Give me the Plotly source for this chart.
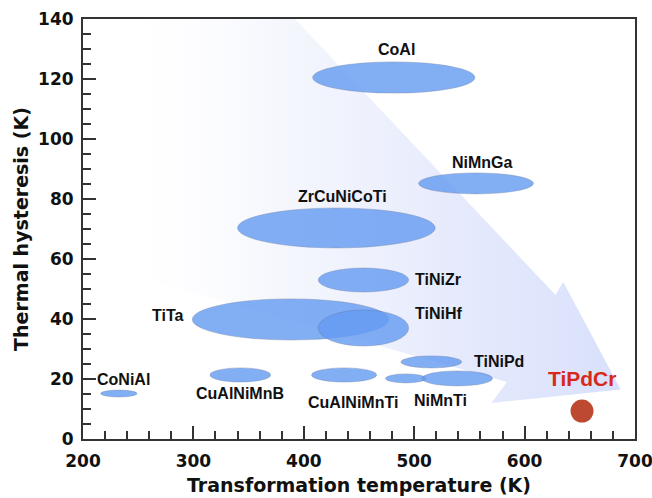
import plotly.graph_objects as go

# ---------------- data ----------------
ell_names = ["CoAl", "NiMnGa", "ZrCuNiCoTi", "TiNiZr", "TiTa", "TiNiHf",
             "TiNiPd", "CuAlNiMnTi", "NiMnTi", "NiMnTi", "CuAlNiMnB", "CoNiAl"]
temp_lo = [408, 504, 340, 413, 299, 413, 488, 407, 474, 507, 315, 216]
temp_hi = [555, 608, 519, 495, 477, 495, 543, 466, 511, 571, 370, 249]
hyst_lo = [115.3, 81.7, 63.7, 49.0, 33.0, 31.0, 23.7, 19.0, 18.7, 17.7, 19.0, 14.0]
hyst_hi = [125.7, 88.7, 77.0, 57.0, 46.7, 43.0, 27.7, 23.7, 21.7, 22.7, 23.7, 16.3]

label_text = ["CoAl", "NiMnGa", "ZrCuNiCoTi", "TiNiZr", "TiTa", "TiNiHf",
              "TiNiPd", "CuAlNiMnTi", "NiMnTi", "CuAlNiMnB", "CoNiAl"]
label_x = [484, 562, 435, 499, 293, 499, 552, 445, 524, 342, 237]
label_y = [130, 92.3, 81, 53.3, 41.3, 41.7, 25.7, 12.3, 13, 15.3, 20]
label_anchor = ["center", "center", "center", "left", "right", "left",
                "left", "center", "center", "center", "center"]

new_name = "TiPdCr"
new_temp = [652]
new_hyst = [9.3]

# decorative arrow outline (data coordinates)
arrow_x = [200, 392, 628, 635, 687, 570, 584, 261, 200]
arrow_y = [140, 140, 48, 52.3, 16.5, 12, 19, 52.7, 70]

x_ticks = [200, 300, 400, 500, 600, 700]
y_ticks = [0, 20, 40, 60, 80, 100, 120, 140]

# ---------------- figure ----------------
fig = go.Figure()

fig.add_trace(go.Scatter(
    x=arrow_x, y=arrow_y, mode="lines", fill="toself",
    line=dict(width=0, color="rgba(0,0,0,0)"),
    fillgradient=dict(type="horizontal", start=220, stop=687,
                      colorscale=[[0, "rgba(255,255,255,0)"],
                                  [0.35, "rgba(238,241,252,0.6)"],
                                  [0.65, "rgba(228,233,252,0.9)"],
                                  [1, "rgba(216,224,251,1)"]]),
    hoverinfo="skip", showlegend=False))

fig.add_trace(go.Scatter(
    x=new_temp, y=new_hyst, mode="markers",
    marker=dict(size=23, color="#BD4A30", line=dict(width=0)),
    showlegend=False))

for x0, x1, y0, y1 in zip(temp_lo, temp_hi, hyst_lo, hyst_hi):
    fig.add_shape(type="circle", xref="x", yref="y",
                  x0=x0, x1=x1, y0=y0, y1=y1,
                  fillcolor="rgb(100,155,242)", opacity=0.8,
                  line=dict(width=0.8, color="rgba(90,110,150,0.5)"),
                  layer="above")

for t, x, y, a in zip(label_text, label_x, label_y, label_anchor):
    fig.add_annotation(x=x, y=y, text=t, showarrow=False, xanchor=a,
                       font=dict(family="Liberation Sans", size=16,
                                 color="#111111", weight="bold"))

fig.add_annotation(x=new_temp[0], y=20.3, text=new_name, showarrow=False,
                   font=dict(family="Liberation Sans", size=21,
                             color="#D8281A", weight="bold"))

axis_common = dict(
    showline=True, linecolor="#333333", linewidth=2, mirror=True,
    ticks="inside", ticklen=13, tickwidth=2, tickcolor="#333333",
    showgrid=False, zeroline=False, ticklabeloverflow="allow",
    tickfont=dict(family="DejaVu Sans", size=17, color="#111111", weight="bold"),
)

fig.update_xaxes(range=[200, 700], tickvals=x_ticks,
                 minor=dict(dtick=20, ticks="inside", ticklen=8, tickwidth=2,
                            tickcolor="#333333", showgrid=False),
                 ticklabelstandoff=6,
                 title=dict(text="Transformation temperature (K)", standoff=8,
                            font=dict(family="DejaVu Sans", size=19,
                                      color="#111111", weight="bold")),
                 **axis_common)
fig.update_yaxes(range=[0, 140], tickvals=y_ticks,
                 minor=dict(dtick=5, ticks="inside", ticklen=8, tickwidth=2,
                            tickcolor="#333333", showgrid=False),
                 ticklabelstandoff=4,
                 title=dict(text="Thermal hysteresis (K)", standoff=4,
                            font=dict(family="DejaVu Sans", size=19,
                                      color="#111111", weight="bold")),
                 **axis_common)

fig.update_layout(
    width=652, height=498,
    margin=dict(l=83, r=17, t=19, b=59, autoexpand=False),
    paper_bgcolor="white", plot_bgcolor="white",
    showlegend=False,
)

fig.write_html("out.html")
